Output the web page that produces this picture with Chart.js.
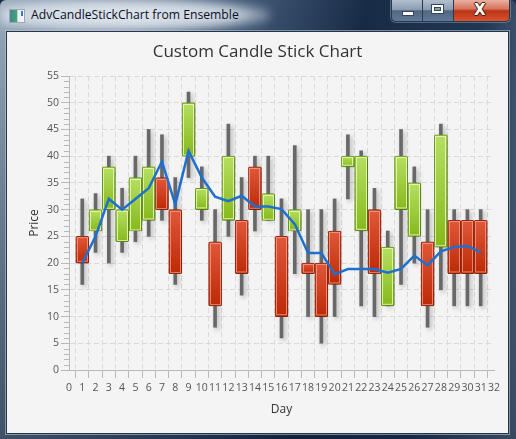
<!DOCTYPE html>
<html>
<head>
<meta charset="utf-8">
<script src="https://cdn.jsdelivr.net/npm/chart.js@4.4.1/dist/chart.umd.min.js"></script>
<style>
  html, body { margin: 0; padding: 0; background: #1b2d45; }
  #win {
    position: absolute; left: 0; top: 0; width: 516px; height: 439px; overflow: hidden;
    border-radius: 6px 6px 0 0;
    background:
      linear-gradient(to bottom, rgba(0,0,0,0) 0%, rgba(12,28,50,0.55) 100%),
      linear-gradient(100deg, #9aabbb 0%, #8194a9 12%, #3d5573 44%, #182b46 62%, #213855 82%, #6f8399 100%);
  }
  #glow {
    position: absolute; left: 0px; top: -2px; width: 270px; height: 34px;
    background: radial-gradient(ellipse at 45% 50%, rgba(230,235,241,0.97) 0%, rgba(214,222,231,0.9) 55%, rgba(200,210,222,0) 78%);
    filter: blur(4px);
  }
  #icon {
    position: absolute; left: 9px; top: 9px; width: 14px; height: 12px;
    border: 1px solid #9aa8b4;
    background: linear-gradient(90deg, #3c8a9a 0%, #4aa070 50%, #e8eef2 55%, #f4f6f8 100%);
  }
  #icon:after {
    content: ""; position: absolute; right: 1px; top: 1px; width: 2px; height: 5px; background: #3a7ab8;
  }
  #wtitle {
    position: absolute; left: 31px; top: 6px;
    font-family: "Open Sans", sans-serif; font-size: 12.2px; color: #0a0f1e; white-space: nowrap;
  }
  #btns {
    position: absolute; left: 391px; top: -1px; width: 117px; height: 21px;
    border: 1px solid #27394f; border-radius: 0 0 5px 5px; overflow: hidden; display: flex;
    box-shadow: 0 0 0 1px rgba(190,205,220,0.35);
  }
  .b { position: relative; height: 100%; border-right: 1px solid #27394f; }
  .b:last-child { border-right: none; }
  .mn, .mx { width: 30px; background: linear-gradient(#b2bfcd 0%, #8b9db2 45%, #52667f 52%, #61789a 100%); }
  .cl { flex: 1; background: linear-gradient(#e9b0a2 0%, #d8745c 42%, #bb3418 52%, #d8532e 100%); }
  .mn:after { content: ""; position: absolute; left: 10px; top: 11px; width: 10px; height: 3px; background: #fff; border: 1px solid #36465a; }
  .mx:after { content: ""; position: absolute; left: 9px; top: 5px; width: 7px; height: 4px; border: 2px solid #fff; box-shadow: 0 0 0 1px #36465a, inset 0 0 0 1px #36465a; }
  .cl span { position: absolute; left: 20px; top: 1px; font: bold 15px "DejaVu Sans", sans-serif; color: #fff;
    text-shadow: 0 0 1px #4a1a10, 1px 0 0 #4a1a10, -1px 0 0 #4a1a10, 0 1px 0 #4a1a10, 0 -1px 0 #4a1a10; }
  #content {
    position: absolute; left: 6px; top: 31px; width: 501px; height: 401px;
    border: 1px solid #263548; background: #f4f4f4;
    box-shadow: 0 0 0 1px rgba(190,205,222,0.55);
  }
  #c { display: block; }
</style>
</head>
<body>
<div id="win">
  <div id="glow"></div>
  <div id="icon"></div>
  <div id="wtitle">AdvCandleStickChart from Ensemble</div>
  <div id="btns"><div class="b mn"></div><div class="b mx"></div><div class="b cl"><span>X</span></div></div>
  <div id="content"><canvas id="c" width="501" height="401" style="width:501px;height:401px"></canvas></div>
</div>
<script>
// day, open, close, high, low, average
var days = [1, 2, 3, 4, 5, 6, 7, 8, 9, 10, 11, 12, 13, 14, 15, 16, 17, 18, 19, 20, 21, 22, 23, 24, 25, 26, 27, 28, 29, 30, 31];
var opens = [25, 26, 30, 24, 26, 28, 36, 30, 40, 30, 24, 28, 28, 38, 28, 25, 26, 20, 20, 26, 38, 26, 30, 12, 30, 25, 24, 23, 28, 28, 28];
var closes = [20, 30, 38, 30, 36, 38, 30, 18, 50, 34, 12, 40, 18, 30, 33, 10, 30, 18, 10, 16, 40, 40, 18, 23, 40, 35, 12, 44, 18, 18, 18];
var highs = [32, 33, 40, 34, 40, 45, 44, 36, 52, 38, 30, 46, 36, 40, 40, 32, 42, 30, 30, 32, 44, 41, 34, 26, 45, 38, 30, 46, 30, 30, 30];
var lows = [16, 22, 20, 22, 24, 25, 28, 16, 36, 28, 8, 25, 14, 26, 28, 6, 18, 10, 5, 10, 32, 12, 10, 12, 16, 20, 8, 15, 12, 12, 12];
var averages = [20, 25, 32, 30, 32, 34, 39, 31, 41, 36, 32.4, 31.6, 32.6, 30.6, 30.6, 30.1, 27.3, 21.9, 21.9, 17.9, 18.9, 18.9, 18.9, 18.2, 18.9, 21.4, 19.6, 22.2, 23, 23.2, 22];

var chartTitle = 'Custom Candle Stick Chart';
var xTitle = 'Day';
var yTitle = 'Price';

function isUp(i) { return closes[i] > opens[i]; }

var wickData = days.map(function(d, i) { return { x: d, y: [lows[i], highs[i]] }; });
var bodyData = days.map(function(d, i) { return { x: d, y: [opens[i], closes[i]] }; });
var avgData = days.map(function(d, i) { return { x: d, y: averages[i] }; });

function bodyFill(ctx) {
    var i = ctx.dataIndex;
    var up = isUp(i);
    var chart = ctx.chart;
    var flat = up ? '#9acb38' : '#cf3d1c';
    var ys = chart.scales && chart.scales.y;
    if (!ys || ctx.type !== 'data') return flat;
    var top = ys.getPixelForValue(Math.max(opens[i], closes[i]));
    var bot = ys.getPixelForValue(Math.min(opens[i], closes[i]));
    if (!isFinite(top) || !isFinite(bot)) return flat;
    var g = chart.ctx.createLinearGradient(0, top, 0, bot + 0.01);
    if (up) {
        g.addColorStop(0, '#b6df62');
        g.addColorStop(1, '#86b91c');
    } else {
        g.addColorStop(0, '#e0583a');
        g.addColorStop(1, '#bd2906');
    }
    return g;
}

// shadows under candles, inner highlight of bodies, minor y ticks
var candleDeco = {
    id: 'candleDeco',
    beforeDatasetDraw: function(chart, args) {
        var ctx = chart.ctx;
        ctx.save();
        if (args.meta.type === 'bar') {
            ctx.shadowColor = 'rgba(0,0,0,0.28)';
            ctx.shadowBlur = 5;
            ctx.shadowOffsetX = 2;
            ctx.shadowOffsetY = 2;
        }
    },
    afterDatasetDraw: function(chart, args) {
        var ctx = chart.ctx;
        ctx.restore();
        if (args.meta.label !== 'body') return;
        ctx.save();
        ctx.lineWidth = 1;
        args.meta.data.forEach(function(el, i) {
            var p = el.getProps(['x', 'y', 'base', 'width'], true);
            var top = Math.min(p.y, p.base), h = Math.abs(p.base - p.y);
            if (h < 5) return;
            ctx.strokeStyle = isUp(i) ? 'rgba(232,248,186,0.85)' : 'rgba(250,160,140,0.75)';
            ctx.strokeRect(Math.round(p.x - p.width / 2) + 1.5, Math.round(top) + 1.5, p.width - 3, h - 3);
        });
        ctx.restore();
    },
    afterDraw: function(chart) {
        var ys = chart.scales.y, ctx = chart.ctx, left = chart.chartArea.left;
        ctx.save();
        ctx.strokeStyle = '#b9b9b9';
        ctx.lineWidth = 1;
        for (var v = ys.min; v <= ys.max; v++) {
            if (v % 5 === 0) continue;
            var py = Math.round(ys.getPixelForValue(v)) + 0.5;
            ctx.beginPath();
            ctx.moveTo(left - 5, py);
            ctx.lineTo(left, py);
            ctx.stroke();
        }
        ctx.restore();
    }
};

var tickFont = { family: 'Open Sans', size: 10.5 };
var titleFont = { family: 'Open Sans', size: 12 };

var chart = new Chart(document.getElementById('c'), {
    data: {
        datasets: [{
            type: 'line',
            label: 'average',
            data: avgData,
            borderColor: '#1d70cf',
            borderWidth: 2.5,
            pointRadius: 0,
            tension: 0,
            order: 0
        }, {
            type: 'bar',
            label: 'body',
            data: bodyData,
            backgroundColor: bodyFill,
            borderColor: days.map(function(d, i) { return isUp(i) ? '#68991a' : '#982a10'; }),
            borderWidth: 1,
            borderSkipped: false,
            borderRadius: 1.5,
            barThickness: 13,
            grouped: false,
            order: 1
        }, {
            type: 'bar',
            label: 'wick',
            data: wickData,
            backgroundColor: '#686868',
            borderWidth: 0,
            barThickness: 3,
            grouped: false,
            order: 2
        }]
    },
    options: {
        responsive: false,
        animation: false,
        events: [],
        layout: { padding: { left: 14, right: 14, top: 0, bottom: 0 } },
        plugins: {
            legend: { display: false },
            tooltip: { enabled: false },
            title: {
                display: true,
                text: chartTitle,
                color: '#333333',
                font: { family: 'Open Sans', size: 17, weight: 'normal' },
                padding: { top: 9.8, bottom: 13.8 }
            }
        },
        scales: {
            x: {
                type: 'linear',
                min: 0,
                max: 32,
                offset: false,
                afterFit: function(s) { s.height = 63; },
                ticks: { stepSize: 1, autoSkip: false, maxRotation: 0, minRotation: 0, padding: 4, color: '#555555', font: tickFont },
                grid: { color: '#dadada', tickColor: '#b9b9b9', tickLength: 8 },
                border: { color: '#b9b9b9', dash: [5, 3] },
                title: { display: true, text: xTitle, color: '#333333', font: titleFont, padding: { top: 0, bottom: 15.8 } }
            },
            y: {
                type: 'linear',
                min: 0,
                max: 55,
                afterFit: function(s) { s.width = 48; },
                ticks: { stepSize: 5, padding: 2, color: '#555555', font: tickFont },
                grid: { color: '#dadada', tickColor: '#b9b9b9', tickLength: 8 },
                border: { color: '#b9b9b9', dash: [5, 3] },
                title: { display: true, text: yTitle, color: '#333333', font: titleFont, padding: { top: 6, bottom: 0 } }
            }
        }
    },
    plugins: [candleDeco]
});
</script>
</body>
</html>
